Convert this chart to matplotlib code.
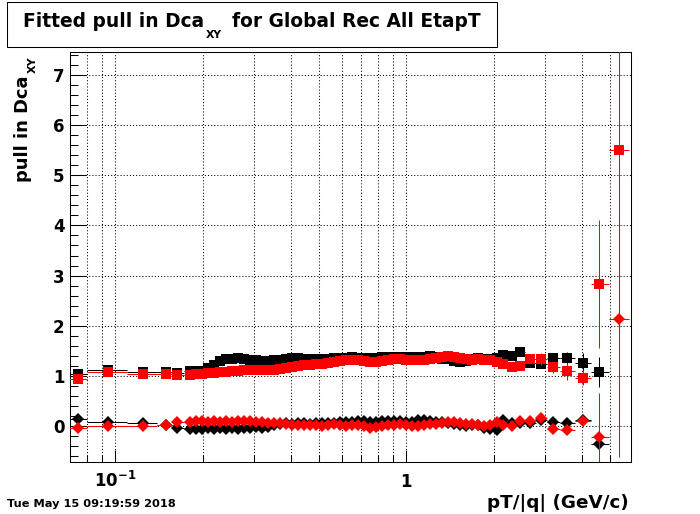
import numpy as np
import matplotlib
matplotlib.use('Agg')
import matplotlib.pyplot as plt
from matplotlib.ticker import FixedLocator, NullFormatter, MultipleLocator, FormatStrFormatter
from matplotlib.patches import Rectangle
from matplotlib.text import Annotation
import matplotlib.transforms as mtrans

plt.rcParams['font.family'] = ['DejaVu Sans']
plt.rcParams['font.weight'] = 'bold'
plt.rcParams['mathtext.fontset'] = 'dejavusans'
plt.rcParams['mathtext.default'] = 'bf'
plt.rcParams['lines.scale_dashes'] = False

# ---------------- data ----------------
pt = [0.0746, 0.0946, 0.125, 0.149, 0.163, 0.180,
      0.189, 0.199, 0.208, 0.218, 0.229, 0.240, 0.252, 0.264, 0.277, 0.290,
      0.304, 0.319, 0.335, 0.351, 0.368, 0.386, 0.405, 0.424, 0.445, 0.467,
      0.489, 0.513, 0.538, 0.564, 0.592, 0.621, 0.651, 0.682, 0.716, 0.751,
      0.787, 0.825, 0.865, 0.907, 0.951, 0.998, 1.046, 1.097, 1.150, 1.206,
      1.265, 1.326, 1.391, 1.458, 1.529, 1.604, 1.682, 1.764, 1.849, 1.939,
      2.045, 2.154, 2.302, 2.459, 2.661, 2.903, 3.201, 3.575, 4.039, 4.605, 5.395]

# lower edges of the first (wide) bins
low_edges = [0.0650, 0.0800, 0.1100, 0.1390, 0.1580, 0.1720, 0.1850]

# black: squares (width) and diamonds (mean); no entry in the last bin
sq_black = [1.04, 1.12, 1.07, 1.07, 1.06, 1.09,
            1.09, 1.10, 1.16, 1.22, 1.29, 1.33, 1.34, 1.35, 1.34, 1.32,
            1.31, 1.30, 1.30, 1.31, 1.32, 1.34, 1.36, 1.36, 1.34, 1.33,
            1.34, 1.33, 1.34, 1.36, 1.35, 1.36, 1.37, 1.36, 1.36, 1.36,
            1.36, 1.37, 1.37, 1.38, 1.38, 1.37, 1.38, 1.37, 1.38, 1.40,
            1.37, 1.34, 1.34, 1.30, 1.28, 1.29, 1.34, 1.35, 1.34, 1.33,
            1.35, 1.42, 1.40, 1.47, 1.26, 1.24, 1.35, 1.35, 1.25, 1.07]
dm_black = [0.13, 0.08, 0.05, 0.02, -0.03, -0.05,
            -0.05, -0.06, -0.04, -0.06, -0.04, -0.05, -0.04, -0.05, -0.03, -0.04,
            -0.02, -0.03, -0.02, 0.02, 0.04, 0.05, 0.04, 0.05, 0.06, 0.04,
            0.05, 0.06, 0.05, 0.06, 0.07, 0.07, 0.08, 0.09, 0.10, 0.08,
            0.07, 0.09, 0.10, 0.09, 0.10, 0.07, 0.08, 0.11, 0.11, 0.10,
            0.08, 0.07, 0.06, 0.04, 0.02, 0.00, 0.02, 0.02, -0.03, -0.05,
            -0.07, 0.11, 0.05, 0.05, 0.05, 0.12, 0.08, 0.05, 0.12, -0.35]

# red: squares (width) and diamonds (mean)
sq_red = [0.93, 1.07, 1.04, 1.04, 1.02, 1.02,
          1.03, 1.04, 1.05, 1.06, 1.08, 1.08, 1.09, 1.10, 1.11, 1.12,
          1.12, 1.12, 1.11, 1.11, 1.13, 1.16, 1.17, 1.19, 1.21, 1.22,
          1.23, 1.24, 1.25, 1.27, 1.29, 1.31, 1.32, 1.32, 1.30, 1.28,
          1.28, 1.29, 1.31, 1.33, 1.33, 1.31, 1.31, 1.31, 1.32, 1.34,
          1.36, 1.38, 1.39, 1.38, 1.36, 1.33, 1.32, 1.33, 1.32, 1.32,
          1.27, 1.24, 1.18, 1.20, 1.33, 1.34, 1.18, 1.09, 0.96, 2.83, 5.50]
dm_red = [-0.03, 0.00, 0.00, 0.02, 0.07, 0.08,
          0.09, 0.09, 0.08, 0.09, 0.08, 0.09, 0.08, 0.09, 0.10, 0.09,
          0.08, 0.07, 0.06, 0.05, 0.05, 0.03, 0.02, 0.02, 0.01, 0.02,
          0.01, 0.00, 0.02, 0.03, 0.01, 0.00, 0.01, 0.02, 0.00, -0.04,
          -0.02, 0.00, 0.01, 0.02, 0.04, 0.01, 0.00, 0.00, 0.01, 0.03,
          0.04, 0.05, 0.08, 0.07, 0.06, 0.04, 0.03, 0.02, 0.00, 0.02,
          0.07, 0.02, 0.00, 0.09, 0.09, 0.15, -0.05, -0.07, 0.09, -0.22, 2.13]

# vertical errors
err_sq_black = [0.03] * 6 + [0.02] * 50 + [0.04, 0.05, 0.05, 0.06, 0.07, 0.08, 0.10, 0.13, 0.20, 0.30]
err_dm_black = [0.03] * 6 + [0.02] * 50 + [0.04, 0.04, 0.04, 0.05, 0.05, 0.06, 0.05, 0.06, 0.10, 0.05]
err_sq_red = [0.03] * 6 + [0.02] * 50 + [0.04, 0.05, 0.05, 0.06, 0.08, 0.12, 0.12, 0.17, 0.15, 1.28, 6.11]
err_dm_red = [0.03] * 6 + [0.02] * 50 + [0.04, 0.04, 0.04, 0.05, 0.06, 0.08, 0.08, 0.08, 0.10, 0.87, 2.00]

x_major = [0.1, 1.0]
x_minor = [0.08, 0.09, 0.2, 0.3, 0.4, 0.5, 0.6, 0.7, 0.8, 0.9, 2.0, 3.0, 4.0, 5.0]
x_major_labels = [r'$10^{-1}$', '1']

title_main = 'Fitted pull in Dca'
title_sub = 'XY'
title_rest = 'for Global Rec All EtapT'
ylabel_main = 'pull in Dca'
ylabel_sub = 'XY'
xlabel = 'pT/|q| (GeV/c)'
date_text = 'Tue May 15 09:19:59 2018'

# ---------------- bins ----------------
pt_a = np.array(pt)
n = len(pt_a)
edges = np.empty(n + 1)
edges[:len(low_edges)] = low_edges
for i in range(len(low_edges) - 1, n - 1):
    edges[i + 1] = np.sqrt(pt_a[i] * pt_a[i + 1])
edges[n] = pt_a[-1] ** 2 / edges[n - 1]
xlo = pt_a - edges[:-1]
xhi = edges[1:] - pt_a

# ---------------- figure ----------------
W, H = 700, 514
fig = plt.figure(figsize=(W / 100, H / 100), dpi=100)
fig.patch.set_facecolor('white')
ax = fig.add_axes([70 / W, 52.3 / H, 560.7 / W, 410 / H])
ax.set_xscale('log')
ax.set_xlim(0.0699, 5.90)
ax.set_ylim(-0.712, 7.465)

for s in ax.spines.values():
    s.set_linewidth(0.75)
    s.set_color('black')

ax.xaxis.set_major_locator(FixedLocator(x_major))
ax.xaxis.set_minor_locator(FixedLocator(x_minor))
ax.xaxis.set_major_formatter(NullFormatter())
ax.xaxis.set_minor_formatter(NullFormatter())
ax.yaxis.set_major_locator(MultipleLocator(1))
ax.yaxis.set_minor_locator(MultipleLocator(0.2))
ax.yaxis.set_major_formatter(FormatStrFormatter('%d'))

ax.tick_params(axis='x', which='major', direction='in', length=8.5, width=0.75, top=False)
ax.tick_params(axis='x', which='minor', direction='in', length=5, width=0.75, top=False)
ax.tick_params(axis='y', which='major', direction='in', length=11.5, width=0.75, right=False,
               labelsize=12, pad=4)
ax.tick_params(axis='y', which='minor', direction='in', length=5.8, width=0.75, right=False)
for lab in ax.get_yticklabels():
    lab.set_fontweight('bold')

dots = (0, (0.75, 1.5))
ax.grid(True, which='both', axis='x', color='black', linestyle=dots, linewidth=0.75)
ax.grid(True, which='major', axis='y', color='black', linestyle=dots, linewidth=0.75)
ax.set_axisbelow(True)

# x labels at major ticks
offs = mtrans.offset_copy(ax.get_xaxis_transform(), fig=fig, x=0, y=-25.6, units='dots')
for xv, lab in zip(x_major, x_major_labels):
    ax.text(xv, 0, lab, transform=offs, ha='center', va='baseline', fontsize=12,
            fontweight='bold', clip_on=False)


def draw(x, y, ey, lo, hi, color, marker, ms, z):
    ax.errorbar(x, y, yerr=ey, xerr=[lo, hi], fmt='none', ecolor=color,
                elinewidth=0.75, capsize=0, zorder=z)
    ax.plot(x, y, ls='none', marker=marker, ms=ms, mfc=color, mec=color, mew=0, zorder=z + 0.5)


nb = len(sq_black)
draw(pt_a[:nb], sq_black, err_sq_black, xlo[:nb], xhi[:nb], 'black', 's', 7.0, 3)
draw(pt_a[:nb], dm_black, err_dm_black, xlo[:nb], xhi[:nb], 'black', 'D', 5.9, 3)
draw(pt_a, sq_red, err_sq_red, xlo, xhi, '#ff0000', 's', 7.0, 5)
draw(pt_a, dm_red, err_dm_red, xlo, xhi, '#ff0000', 'D', 5.9, 5)

# ---------------- title box ----------------
fig.add_artist(Rectangle((7 / W, (H - 47) / H), 490 / W, 45 / H, transform=fig.transFigure,
                         facecolor='white', edgecolor='black', linewidth=0.75, zorder=1))
t1 = fig.text(23 / W, (H - 26.7) / H, title_main, fontsize=13.4, fontweight='bold',
              ha='left', va='baseline', zorder=2)
t2 = Annotation(title_sub, xy=(1, H - 38.3), xycoords=(t1, 'figure pixels'),
                xytext=(2, 0), textcoords='offset pixels', fontsize=7.8, fontweight='bold',
                ha='left', va='baseline', zorder=2)
fig.add_artist(t2)
t3 = Annotation(title_rest, xy=(1, H - 26.7), xycoords=(t2, 'figure pixels'),
                xytext=(10, 0), textcoords='offset pixels', fontsize=13.4, fontweight='bold',
                ha='left', va='baseline', zorder=2)
fig.add_artist(t3)

# ---------------- y label ----------------
ty = fig.text(27.5 / W, (H - 181.7) / H, ylabel_main, fontsize=12.9, fontweight='bold',
              rotation=90, rotation_mode='anchor', ha='left', va='baseline')
ty2 = Annotation(ylabel_sub, xy=(36, 1), xycoords=('figure pixels', ty),
                 xytext=(0, 2), textcoords='offset pixels', fontsize=8, fontweight='bold',
                 rotation=90, rotation_mode='anchor', ha='left', va='baseline')
fig.add_artist(ty2)

# ---------------- x label and date ----------------
fig.text(629 / W, (H - 507.5) / H, xlabel, fontsize=13.2, fontweight='bold',
         ha='right', va='baseline')
fig.text(7 / W, (H - 507) / H, date_text, fontsize=8.2, fontweight='bold',
         ha='left', va='baseline')

fig.savefig('out.png', dpi=100, facecolor='white')
